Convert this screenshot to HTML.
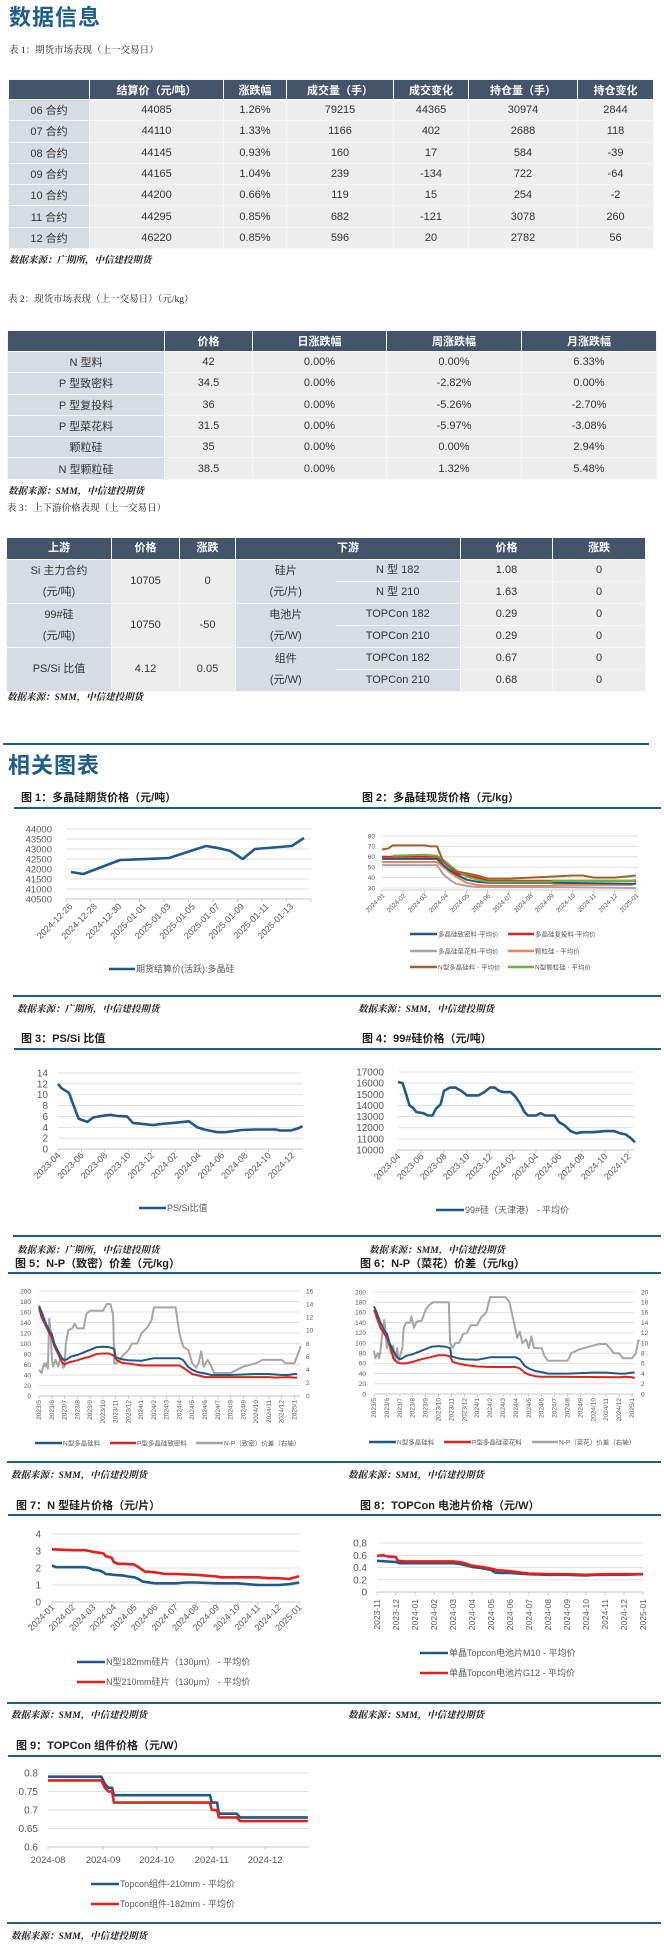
<!DOCTYPE html>
<html><head><meta charset="utf-8">
<style>
*{margin:0;padding:0;box-sizing:border-box}
body{width:664px;height:1944px;position:relative;background:#fff;font-family:"Liberation Sans","Noto Sans CJK SC",sans-serif;color:#222;overflow:hidden}
.abs{position:absolute}
.h1{font-size:22px;font-weight:bold;color:#1f5d8c;letter-spacing:1px}
.cap{font-size:9.5px;font-family:"Liberation Serif","Noto Serif CJK SC",serif;color:#222}
.src{font-size:9.5px;font-style:italic;font-weight:bold;font-family:"Liberation Serif","Noto Serif CJK SC",serif;color:#222}
.ft{font-size:11px;font-weight:bold;color:#222}
.rule{position:absolute;height:2px;background:#1f5d8c}
table{position:absolute;border-collapse:collapse;table-layout:fixed;font-size:11px;color:#333}
td,th{text-align:center;border:1px solid #f4f6f8;padding:0;overflow:hidden;white-space:nowrap}
th{background:#44546a;color:#fff;font-weight:bold}
td{background:#ededed}
td.k{background:#d6dce4}
</style></head><body>
<div class="abs h1" style="left:9px;top:0px">数据信息</div>
<div class="abs cap" style="left:9px;top:42px">表 1：期货市场表现（上一交易日）</div>
<table style="left:8px;top:79px;width:645px">
<colgroup><col style="width:81px"><col style="width:134px"><col style="width:63px"><col style="width:107px"><col style="width:75px"><col style="width:109px"><col style="width:76px"></colgroup>
<tr style="height:20px"><th></th><th>结算价（元/吨）</th><th>涨跌幅</th><th>成交量（手）</th><th>成交变化</th><th>持仓量（手）</th><th>持仓变化</th></tr>
<tr style="height:21.3px"><td class="k">06 合约</td><td>44085</td><td>1.26%</td><td>79215</td><td>44365</td><td>30974</td><td>2844</td></tr>
<tr style="height:21.3px"><td class="k">07 合约</td><td>44110</td><td>1.33%</td><td>1166</td><td>402</td><td>2688</td><td>118</td></tr>
<tr style="height:21.3px"><td class="k">08 合约</td><td>44145</td><td>0.93%</td><td>160</td><td>17</td><td>584</td><td>-39</td></tr>
<tr style="height:21.3px"><td class="k">09 合约</td><td>44165</td><td>1.04%</td><td>239</td><td>-134</td><td>722</td><td>-64</td></tr>
<tr style="height:21.3px"><td class="k">10 合约</td><td>44200</td><td>0.66%</td><td>119</td><td>15</td><td>254</td><td>-2</td></tr>
<tr style="height:21.3px"><td class="k">11 合约</td><td>44295</td><td>0.85%</td><td>682</td><td>-121</td><td>3078</td><td>260</td></tr>
<tr style="height:21.3px"><td class="k">12 合约</td><td>46220</td><td>0.85%</td><td>596</td><td>20</td><td>2782</td><td>56</td></tr>
</table>
<div class="abs src" style="left:9px;top:252px">数据来源：广期所，中信建投期货</div>
<div class="abs cap" style="left:8px;top:291px">表 2：现货市场表现（上一交易日）（元/kg）</div>
<table style="left:7px;top:330px;width:649px">
<colgroup><col style="width:157px"><col style="width:88px"><col style="width:134px"><col style="width:135px"><col style="width:135px"></colgroup>
<tr style="height:21px"><th></th><th>价格</th><th>日涨跌幅</th><th>周涨跌幅</th><th>月涨跌幅</th></tr>
<tr style="height:21.3px"><td class="k">N 型料</td><td>42</td><td>0.00%</td><td>0.00%</td><td>6.33%</td></tr>
<tr style="height:21.3px"><td class="k">P 型致密料</td><td>34.5</td><td>0.00%</td><td>-2.82%</td><td>0.00%</td></tr>
<tr style="height:21.3px"><td class="k">P 型复投料</td><td>36</td><td>0.00%</td><td>-5.26%</td><td>-2.70%</td></tr>
<tr style="height:21.3px"><td class="k">P 型菜花料</td><td>31.5</td><td>0.00%</td><td>-5.97%</td><td>-3.08%</td></tr>
<tr style="height:21.3px"><td class="k">颗粒硅</td><td>35</td><td>0.00%</td><td>0.00%</td><td>2.94%</td></tr>
<tr style="height:21.3px"><td class="k">N 型颗粒硅</td><td>38.5</td><td>0.00%</td><td>1.32%</td><td>5.48%</td></tr>
</table>
<div class="abs src" style="left:8px;top:483px">数据来源：SMM，中信建投期货</div>
<div class="abs cap" style="left:7px;top:500px">表 3：上下游价格表现（上一交易日）</div>
<table style="left:6px;top:537px;width:639px;line-height:21px">
<colgroup><col style="width:105px"><col style="width:68px"><col style="width:56px"><col style="width:100px"><col style="width:125px"><col style="width:92px"><col style="width:93px"></colgroup>
<tr style="height:20px"><th>上游</th><th>价格</th><th>涨跌</th><th colspan="2">下游</th><th>价格</th><th>涨跌</th></tr>
<tr style="height:21.3px"><td class="k" rowspan="2">Si 主力合约<br>(元/吨)</td><td rowspan="2">10705</td><td rowspan="2">0</td><td class="k" rowspan="2" style="border-right:none">硅片<br>(元/片)</td><td class="k" style="border-left:none">N 型 182</td><td>1.08</td><td>0</td></tr>
<tr style="height:21.3px"><td class="k" style="border-left:none">N 型 210</td><td>1.63</td><td>0</td></tr>
<tr style="height:21.3px"><td class="k" rowspan="2">99#硅<br>(元/吨)</td><td rowspan="2">10750</td><td rowspan="2">-50</td><td class="k" rowspan="2" style="border-right:none">电池片<br>(元/W)</td><td class="k" style="border-left:none">TOPCon 182</td><td>0.29</td><td>0</td></tr>
<tr style="height:21.3px"><td class="k" style="border-left:none">TOPCon 210</td><td>0.29</td><td>0</td></tr>
<tr style="height:21.3px"><td class="k" rowspan="2">PS/Si 比值</td><td rowspan="2">4.12</td><td rowspan="2">0.05</td><td class="k" rowspan="2" style="border-right:none">组件<br>(元/W)</td><td class="k" style="border-left:none">TOPCon 182</td><td>0.67</td><td>0</td></tr>
<tr style="height:21.3px"><td class="k" style="border-left:none">TOPCon 210</td><td>0.68</td><td>0</td></tr>
</table>
<div class="abs src" style="left:7px;top:689px">数据来源：SMM，中信建投期货</div>

<div class="rule" style="left:3px;top:743px;width:646px"></div>
<div class="abs h1" style="left:8px;top:748px">相关图表</div>

<div class="abs ft" style="left:21px;top:789px">图 1：多晶硅期货价格（元/吨）</div>
<div class="abs ft" style="left:362px;top:789px">图 2：多晶硅现货价格（元/kg）</div>
<div class="rule" style="left:14px;top:807px;width:647px"></div>
<div class="rule" style="left:13px;top:995px;width:648px"></div>
<div class="abs src" style="left:17px;top:1001px">数据来源：广期所，中信建投期货</div>
<div class="abs src" style="left:358px;top:1001px">数据来源：SMM，中信建投期货</div>

<div class="abs ft" style="left:21px;top:1030px">图 3：PS/Si 比值</div>
<div class="abs ft" style="left:362px;top:1030px">图 4：99#硅价格（元/吨）</div>
<div class="rule" style="left:14px;top:1048px;width:647px"></div>
<div class="rule" style="left:13px;top:1235px;width:648px"></div>
<div class="abs src" style="left:17px;top:1242px">数据来源：广期所，中信建投期货</div>
<div class="abs src" style="left:369px;top:1242px">数据来源：SMM，中信建投期货</div>
<div class="abs ft" style="left:15px;top:1255px">图 5：N-P（致密）价差（元/kg）</div>
<div class="abs ft" style="left:360px;top:1255px">图 6：N-P（菜花）价差（元/kg）</div>
<div class="rule" style="left:8px;top:1272px;width:653px"></div>
<div class="rule" style="left:7px;top:1461px;width:654px"></div>
<div class="abs src" style="left:11px;top:1467px">数据来源：SMM，中信建投期货</div>
<div class="abs src" style="left:348px;top:1467px">数据来源：SMM，中信建投期货</div>

<div class="abs ft" style="left:16px;top:1497px">图 7：N 型硅片价格（元/片）</div>
<div class="abs ft" style="left:360px;top:1497px">图 8：TOPCon 电池片价格（元/W）</div>
<div class="rule" style="left:8px;top:1514px;width:653px"></div>
<div class="rule" style="left:7px;top:1702px;width:654px"></div>
<div class="abs src" style="left:11px;top:1707px">数据来源：SMM，中信建投期货</div>
<div class="abs src" style="left:348px;top:1707px">数据来源：SMM，中信建投期货</div>
<div class="abs ft" style="left:16px;top:1737px">图 9：TOPCon 组件价格（元/W）</div>
<div class="rule" style="left:8px;top:1755px;width:653px"></div>
<div class="rule" style="left:7px;top:1922px;width:654px"></div>
<div class="abs src" style="left:11px;top:1928px">数据来源：SMM，中信建投期货</div>

<svg id="charts" class="abs" style="left:0;top:0" width="664" height="1944" xmlns="http://www.w3.org/2000/svg"></svg>

<script>
// ---------- data ----------
const f1Labels=["2024-12-26","2024-12-28","2024-12-30","2025-01-01","2025-01-03","2025-01-05","2025-01-07","2025-01-09","2025-01-11","2025-01-13"];
const f1Days=[0,1,4,5,7,8,11,12,13,14,15,18,19];
const f1Values=[41850,41750,42450,42470,42520,42550,43150,43050,42900,42500,43000,43150,43550];
const f1Ticks=[40500,41000,41500,42000,42500,43000,43500,44000];

const f2Labels=["2024-01","2024-02","2024-03","2024-04","2024-05","2024-06","2024-07","2024-08","2024-09","2024-10","2024-11","2024-12","2025-01"];
const f2Ticks=[30,40,50,60,70,80];
const f2GrayX=[0,2.6,2.9,3.2,3.5,4,4.5,5,8,12];
const f2GrayY=[52,52,43,38,34,32,31,31,31,30];
const f2OrangeX=[0,2.6,2.9,3.2,3.5,4,4.5,5,8,8.1,11.8,12];
const f2OrangeY=[55,55,50,45,41,35,33,32,32,33,33,35];
const f2BlueX=[0,2.6,2.9,3.2,3.5,4,4.5,5,8,11.8,12];
const f2BlueY=[58,58,52,47,43,38,36,35,35,34,34];
const f2RedX=[0,2.6,2.9,3.2,3.5,4,4.5,5,8,11.8,12];
const f2RedY=[60,60,55,50,44,42,40,37,37,37,37];
const f2GreenX=[0.5,2,2.6,2.9,3.2,3.5,4,4.5,5,8,8.1,11.8,12];
const f2GreenY=[61,62,61,57,52,47,41,38,36,36,37,37,38];
const f2BrownX=[0,0.3,0.5,2,2.3,2.6,2.9,3.2,3.5,4,4.5,5,6,7,8,9,9.5,10,11,11.5,12];
const f2BrownY=[67,68,71,71,70,70,55,50,46,44,42,39,39,40,41,42,42,40,40,41,42];

const f3Labels=["2023-04","2023-06","2023-08","2023-10","2023-12","2024-02","2024-04","2024-06","2024-08","2024-10","2024-12"];
const f3Ticks=[0,2,4,6,8,10,12,14];
const f3X=[0,0.3,0.75,0.95,1.2,1.75,2.5,3.0,3.75,4.5,5.0,5.9,6.4,8.1,8.8,10.3,11.2,11.9,12.5,13.6,14.3,15.7,16.8,18.6,19.0,19.9,20.5,20.9];
const f3Y=[12,11.2,10.6,10.3,8.8,5.6,5.0,5.8,6.1,6.3,6.1,6.0,4.8,4.4,4.6,4.9,5.1,4.0,3.6,3.1,3.1,3.5,3.6,3.6,3.4,3.4,3.8,4.2];

const f4Labels=f3Labels;
const f4Ticks=[10000,11000,12000,13000,14000,15000,16000,17000];
const f4X=[0,0.4,0.7,1.0,1.3,1.6,2.2,2.6,3.0,3.3,3.7,4.0,4.5,5.0,5.5,6.0,6.5,7.0,7.5,8.0,8.4,8.8,9.2,9.8,10.2,10.6,11.0,11.3,12.0,12.4,12.8,13.6,14.0,14.5,15.0,15.5,16.0,17.0,18.0,18.8,19.3,19.8,20.2,20.6];
const f4Y=[16100,16000,15000,14000,13800,13400,13300,13100,13100,13700,14100,15300,15600,15600,15300,14900,14900,14900,15200,15600,15600,15300,15200,15200,14800,14200,13400,13100,13100,13300,13100,13100,12500,12200,11700,11500,11600,11600,11700,11700,11500,11400,11100,10700];

const f5Labels=["2023/5","2023/6","2023/7","2023/8","2023/9","2023/10","2023/11","2023/12","2024/1","2024/2","2024/3","2024/4","2024/5","2024/6","2024/7","2024/8","2024/9","2024/10","2024/11","2024/12","2025/1"];
const f5LeftTicks=[0,20,40,60,80,100,120,140,160,180,200];
const f5RightTicks=[0,2,4,6,8,10,12,14,16];
const fNX=[0,0.2,0.5,0.8,1,1.2,1.5,1.8,2,2.2,2.5,3,3.5,4,4.5,5,5.5,5.9,6,6.5,7,8,9,10,11,11.3,11.7,12,12.5,13,13.5,14,15,16,17,18,18.5,19,19.5,20,20.2];
const fNY=[172,160,140,125,118,100,85,72,68,70,75,78,83,88,93,94,93,90,74,70,68,67,72,72,72,68,55,50,45,43,40,40,40,41,42,42,41,40,40,42,42];
const f5PX=[0,0.2,0.5,0.8,1,1.2,1.5,1.8,2,2.3,2.5,3,3.5,4,4.5,5,5.5,5.9,6.1,6.5,7,8,9,10,11,11.3,11.7,12,12.5,13,14,18,18.5,19.5,20,20.2];
const f5PY=[168,150,135,120,112,95,80,65,60,64,65,68,72,75,80,81,81,76,68,63,62,58,58,58,58,54,47,42,39,36,36,36,35,36,35,35];
const f5SpreadX=[0,0.2,0.4,0.5,0.6,0.7,0.8,0.9,1.0,1.1,1.3,1.5,1.7,1.9,2.0,2.1,2.3,2.6,2.8,3.0,3.5,3.7,4,5,5.3,5.6,5.8,5.9,6.1,6.5,7,7.3,7.7,8,8.5,8.8,9,10,10.7,11,11.3,11.7,12,12.3,12.5,12.7,12.9,13.2,13.5,13.7,14,15,15.5,16,17,17.5,18,19,19.3,20,20.3,20.5];
const f5SpreadY=[4,3.5,5,4.5,5,4.2,11.8,10,6,4.5,5.5,4.5,6,4.3,4.5,8,10,10.3,11,10.3,10.3,12.5,13,13,14,14,12.4,5,5,6,7,8,8,9.5,10.5,11.5,13.5,13.5,13.5,9.5,7.5,7,5,4.3,5,6.8,4.5,5.5,4.5,3.5,3.5,3.5,4,4.5,5,5.5,5.5,5.5,5.0,5.0,6.5,7.6];

const f6LeftTicks=f5LeftTicks;
const f6RightTicks=[0,2,4,6,8,10,12,14,16,18,20];
const f6PX=[0,0.5,1,1.3,1.5,1.8,2,2.5,3,3.5,4,4.5,5,5.5,5.9,6.1,6.5,7,8,9,10,11,11.3,11.7,12,12.5,13,14,19,19.5,20,20.2];
const f6PY=[165,130,110,90,70,62,60,60,63,67,70,73,76,76,74,63,60,57,54,53,53,53,50,42,38,35,34,34,33,34,33,31];
const f6SpreadX=[0,0.1,0.3,0.4,0.5,0.6,0.8,0.9,1.0,1.1,1.3,1.5,1.6,1.8,1.9,2.2,2.3,2.5,2.8,2.9,3.1,3.3,3.7,4,4.3,4.6,5.0,5.8,5.9,6.1,6.3,6.6,6.9,7.2,7.5,8,8.3,8.7,9,10,10.2,10.5,10.9,11.1,11.3,11.5,11.8,12.0,12.2,12.4,13,13.2,13.5,14,15,15.3,15.7,16,17,17.5,18,18.6,19,19.3,20,20.3,20.5,20.6];
const f6SpreadY=[8.5,7,8,7,8.2,11,14.5,12,9,10.5,8,9.5,6.5,9,6.5,9,13,14,14,15.2,13,14.2,14.4,16.5,17.5,18,18,18,10,9,10,10,11.7,12,13.5,13.5,15,16,19,19,19,18,13.5,11,12.2,10,10.7,9,11.3,9,9,7.5,6.5,6.5,6.5,8,8.5,8.8,9.5,9.8,9.8,8,8,7,7,8,10.5,10.5];

const f7Labels=f2Labels;
const f7Ticks=[0,1,2,3,4];
const f7BlueX=[0,0.2,1.6,1.8,2,2.3,2.5,2.6,3,3.5,3.7,4,4.2,4.4,5,6,6.5,7,8,9,9.5,10,11,11.5,12];
const f7BlueY=[2.15,2.05,2.05,2.0,1.9,1.85,1.75,1.65,1.6,1.55,1.5,1.45,1.35,1.2,1.1,1.1,1.15,1.15,1.1,1.1,1.05,1.0,1.0,1.05,1.15];
const f7RedX=[0,1,1.6,1.8,2,2.5,2.6,2.9,3.0,3.2,3.5,4,4.2,4.5,5,5.5,6,7,7.5,8,8.2,9,10,10.5,11,11.5,12];
const f7RedY=[3.1,3.05,3.05,3.0,2.95,2.85,2.7,2.6,2.35,2.25,2.25,2.2,2.05,1.8,1.75,1.65,1.65,1.6,1.55,1.5,1.45,1.45,1.45,1.4,1.4,1.35,1.52];

const f8Labels=["2023-11","2023-12","2024-01","2024-02","2024-03","2024-04","2024-05","2024-06","2024-07","2024-08","2024-09","2024-10","2024-11","2024-12","2025-01"];
const f8Ticks=[0,0.2,0.4,0.6,0.8];
const f8BlueX=[0,0.5,1,1.2,4,4.3,4.6,5,5.5,6,6.2,6.5,7,7.5,8,9,10,11,11.5,13,14];
const f8BlueY=[0.51,0.5,0.49,0.47,0.47,0.46,0.44,0.41,0.39,0.36,0.32,0.31,0.31,0.3,0.29,0.28,0.28,0.27,0.28,0.28,0.29];
const f8RedX=[0,0.3,0.6,1,1.1,1.5,4,4.3,4.6,5,5.5,6,6.3,7,7.5,8,9,10,11,12,14];
const f8RedY=[0.59,0.6,0.58,0.57,0.51,0.5,0.5,0.49,0.47,0.43,0.41,0.38,0.36,0.34,0.32,0.3,0.29,0.29,0.28,0.29,0.29];

const f9Labels=["2024-08","2024-09","2024-10","2024-11","2024-12"];
const f9LabelDays=[0,31,61,92,122];
const f9Ticks=[0.6,0.65,0.7,0.75,0.8];
const f9BlueX=[0,30,32,34,36,37,91,92,95,96,106,108,146];
const f9BlueY=[0.79,0.79,0.77,0.76,0.76,0.74,0.74,0.72,0.72,0.69,0.69,0.68,0.68];
const f9RedX=[0,30,32,34,36,37,91,92,95,96,106,108,146];
const f9RedY=[0.78,0.78,0.76,0.75,0.75,0.72,0.72,0.70,0.70,0.68,0.68,0.67,0.67];

// ---------- helpers ----------
const NS="http://www.w3.org/2000/svg";
const svg=document.getElementById('charts');
const FONT='"Liberation Sans","Noto Sans CJK SC",sans-serif';
function el(tag,attrs,parent){const e=document.createElementNS(NS,tag);for(const k in attrs)e.setAttribute(k,attrs[k]);(parent||svg).appendChild(e);return e;}
function lin(d0,d1,r0,r1){return v=>r0+(v-d0)/(d1-d0)*(r1-r0);}
function grid(g,ticks,ys,x0,x1,lx,fs,name){
  ticks.forEach(t=>{
    const l=el('line',{x1:x0,x2:x1,y1:ys(t),y2:ys(t),stroke:'#d9d9d9','stroke-width':0.8},g);
    
    
    if(lx!==null){
      const tx=el('text',{x:lx,y:ys(t)+fs*0.35,'font-size':fs,'text-anchor':'end',fill:'#595959','font-family':FONT},g);
      tx.textContent=String(t);
      
      
    }
  });
}
function rightLabels(g,ticks,ys,lx,fs,name){
  ticks.forEach(t=>{
    const tx=el('text',{x:lx,y:ys(t)+fs*0.35,'font-size':fs,fill:'#595959','font-family':FONT},g);
    tx.textContent=String(t);
    
    
  });
}
function series(g,xs,ys,X,Y,color,w,name){
  const d=X.map((x,i)=>(i?'L':'M')+xs(x).toFixed(1)+','+ys(Y[i]).toFixed(1)).join('');
  const p=el('path',{d:d,fill:'none',stroke:color,'stroke-width':w,'stroke-linejoin':'round'},g);
  
  
}
function xLabels(g,labels,pos,y,rot,fs,name,dx){
  labels.forEach((s,i)=>{
    const x=pos(i)+dx;
    const t=el('text',{x:x,y:y,'font-size':fs,fill:'#595959','font-family':FONT,'text-anchor':rot?'end':'middle',transform:rot?`rotate(${rot} ${x} ${y})`:''},g);
    t.textContent=s;
    
    
  });
}
function legend(g,x,y,len,color,text,fs,name){
  const l=el('line',{x1:x,x2:x+len,y1:y,y2:y,stroke:color,'stroke-width':2.5},g);
  
  
  const t=el('text',{x:x+len+1,y:y+fs*0.36,'font-size':fs,fill:'#595959','font-family':FONT},g);
  t.textContent=text;
  
  
}
function group(name){const g=el('g',{});return g;}
function axisLine(g,x0,x1,y,ticksX,name){
  const a=el('line',{x1:x0,x2:x1,y1:y,y2:y,stroke:'#bfbfbf','stroke-width':0.8},g);
  
  
  ticksX.forEach(tx=>{const t=el('line',{x1:tx,x2:tx,y1:y,y2:y+3,stroke:'#bfbfbf','stroke-width':0.8},g);});
}
const BLUE='#1f5a8a',RED='#e3201b',GRAY='#a6a6a6';

// ---------- fig 1 ----------
(function(){
  const g=group('fig1-chart');
  const xs=lin(0,19,71,304), ys=lin(40500,44000,899,829);
  grid(g,f1Ticks,ys,66,311,52,9.5,'fig1');
  axisLine(g,66,311,899,f1Labels.map((s,i)=>66+24.5*i).concat([311]),'fig1');
  series(g,xs,ys,f1Days,f1Values,BLUE,2.6,'fig1-futures-line');
  xLabels(g,f1Labels,i=>xs(i*2),907,-45,9,'fig1',2);
  legend(g,109,969,26,BLUE,'期货结算价(活跃):多晶硅',9,'fig1');
})();
// ---------- fig 2 ----------
(function(){
  const g=group('fig2-chart');
  const xs=lin(0,12,382,636), ys=lin(30,80,888,836);
  grid(g,f2Ticks,ys,382,638,375,6.5,'fig2');
  axisLine(g,382,638,890,f2Labels.map((s,i)=>xs(i)),'fig2');
  series(g,xs,ys,f2GrayX,f2GrayY,GRAY,2,'fig2-flake-line');
  series(g,xs,ys,f2OrangeX,f2OrangeY,'#f4834b',2,'fig2-granular-line');
  series(g,xs,ys,f2BlueX,f2BlueY,BLUE,2,'fig2-dense-line');
  series(g,xs,ys,f2RedX,f2RedY,RED,2,'fig2-recharge-line');
  series(g,xs,ys,f2GreenX,f2GreenY,'#6bb33c',2,'fig2-n-granular-line');
  series(g,xs,ys,f2BrownX,f2BrownY,'#a0612d',2,'fig2-n-type-line');
  xLabels(g,f2Labels,i=>xs(i),896,-45,6.5,'fig2',3);
  legend(g,410,934,27,BLUE,'多晶硅致密料-平均价',6.5,'fig2-dense');
  legend(g,508,934,26,RED,'多晶硅复投料-平均价',6.5,'fig2-recharge');
  legend(g,410,951,27,GRAY,'多晶硅菜花料-平均价',6.5,'fig2-flake');
  legend(g,508,951,26,'#f4834b','颗粒硅 - 平均价',6.5,'fig2-granular');
  legend(g,410,967,27,'#a0612d','N型多晶硅料 - 平均价',6.5,'fig2-n-type');
  legend(g,508,967,26,'#6bb33c','N型颗粒硅 - 平均价',6.5,'fig2-n-granular');
})();
// ---------- fig 3 ----------
(function(){
  const g=group('fig3-chart');
  const xs=lin(0,1,58,69.7), ys=lin(0,14,1149,1073);
  grid(g,f3Ticks,ys,58,303,48,10,'fig3');
  axisLine(g,58,303,1149,f3Labels.map((s,i)=>xs(i*2)),'fig3');
  series(g,xs,ys,f3X,f3Y,BLUE,2.6,'fig3-ratio-line');
  xLabels(g,f3Labels,i=>xs(i*2),1156,-45,9,'fig3',3);
  legend(g,139,1208,27,BLUE,'PS/Si比值',9,'fig3');
})();
// ---------- fig 4 ----------
(function(){
  const g=group('fig4-chart');
  const xs=lin(0,1,398,409.5), ys=lin(10000,17000,1150,1072);
  grid(g,f4Ticks,ys,398,634,384,10,'fig4');
  axisLine(g,398,634,1150,f4Labels.map((s,i)=>xs(i*2)),'fig4');
  series(g,xs,ys,f4X,f4Y,BLUE,2.6,'fig4-price-line');
  xLabels(g,f4Labels,i=>xs(i*2),1157,-45,9,'fig4',3);
  legend(g,436,1210,28,BLUE,'99#硅（天津港） - 平均价',9,'fig4');
})();
// ---------- fig 5 ----------
(function(){
  const g=group('fig5-chart');
  const xs=lin(0,1,39,51.77), ys=lin(0,200,1396,1291), yr=lin(0,16,1396,1291);
  grid(g,f5LeftTicks,ys,39,300,31,6.5,'fig5');
  rightLabels(g,f5RightTicks,yr,306,6.5,'fig5');
  axisLine(g,39,300,1396,f5Labels.map((s,i)=>xs(i)),'fig5');
  series(g,xs,yr,f5SpreadX,f5SpreadY,GRAY,2,'fig5-spread-line');
  series(g,xs,ys,f5PX,f5PY,RED,2,'fig5-p-line');
  series(g,xs,ys,fNX,fNY,BLUE,2,'fig5-n-line');
  xLabels(g,f5Labels,i=>xs(i),1400,-90,6.5,'fig5',2);
  legend(g,35,1443,27,BLUE,'N型多晶硅料',6.5,'fig5-n');
  legend(g,110,1443,26,RED,'P型多晶硅致密料',6.5,'fig5-p');
  legend(g,196,1443,27,GRAY,'N-P（致密）价差（右轴）',6.5,'fig5-spread');
})();
// ---------- fig 6 ----------
(function(){
  const g=group('fig6-chart');
  const xs=lin(0,1,374,386.9), ys=lin(0,200,1394,1292), yr=lin(0,20,1394,1292);
  grid(g,f6LeftTicks,ys,374,634,366,6.5,'fig6');
  rightLabels(g,f6RightTicks,yr,641,6.5,'fig6');
  axisLine(g,374,634,1394,f5Labels.map((s,i)=>xs(i)),'fig6');
  series(g,xs,yr,f6SpreadX,f6SpreadY,GRAY,2,'fig6-spread-line');
  series(g,xs,ys,f6PX,f6PY,RED,2,'fig6-p-line');
  series(g,xs,ys,fNX,fNY,BLUE,2,'fig6-n-line');
  xLabels(g,f5Labels,i=>xs(i),1398,-90,6.5,'fig6',2);
  legend(g,369,1442,27,BLUE,'N型多晶硅料',6.5,'fig6-n');
  legend(g,444,1442,27,RED,'P型多晶硅菜花料',6.5,'fig6-p');
  legend(g,532,1442,26,GRAY,'N-P（菜花）价差（右轴）',6.5,'fig6-spread');
})();
// ---------- fig 7 ----------
(function(){
  const g=group('fig7-chart');
  const xs=lin(0,1,52,72.6), ys=lin(0,4,1602,1534);
  grid(g,f7Ticks,ys,52,300,41,10,'fig7');
  axisLine(g,52,300,1602,f7Labels.map((s,i)=>xs(i)),'fig7');
  series(g,xs,ys,f7BlueX,f7BlueY,BLUE,2.6,'fig7-182-line');
  series(g,xs,ys,f7RedX,f7RedY,RED,2.6,'fig7-210-line');
  xLabels(g,f7Labels,i=>xs(i),1608,-45,9,'fig7',3);
  legend(g,77,1662,28,BLUE,'N型182mm硅片（130μm） - 平均价',9,'fig7-182');
  legend(g,77,1682,28,RED,'N型210mm硅片（130μm） - 平均价',9,'fig7-210');
})();
// ---------- fig 8 ----------
(function(){
  const g=group('fig8-chart');
  const xs=lin(0,1,377,396), ys=lin(0,0.8,1592,1543);
  grid(g,f8Ticks,ys,377,643,367,10,'fig8');
  axisLine(g,377,643,1592,f8Labels.map((s,i)=>xs(i)),'fig8');
  series(g,xs,ys,f8BlueX,f8BlueY,BLUE,2.6,'fig8-m10-line');
  series(g,xs,ys,f8RedX,f8RedY,RED,2.6,'fig8-g12-line');
  xLabels(g,f8Labels,i=>xs(i),1599,-90,8.5,'fig8',3);
  legend(g,420,1653,28,BLUE,'单晶Topcon电池片M10 - 平均价',9,'fig8-m10');
  legend(g,420,1673,28,RED,'单晶Topcon电池片G12 - 平均价',9,'fig8-g12');
})();
// ---------- fig 9 ----------
(function(){
  const g=group('fig9-chart');
  const xs=lin(0,1,48,49.78), ys=lin(0.6,0.8,1847,1773);
  grid(g,f9Ticks,ys,48,309,38,10,'fig9');
  axisLine(g,48,309,1847,f9LabelDays.map(d=>xs(d)),'fig9');
  series(g,xs,ys,f9BlueX,f9BlueY,BLUE,2.6,'fig9-210-line');
  series(g,xs,ys,f9RedX,f9RedY,RED,2.6,'fig9-182-line');
  xLabels(g,f9Labels,i=>xs(f9LabelDays[i]),1863,0,9.5,'fig9',0);
  legend(g,91,1884,28,BLUE,'Topcon组件-210mm - 平均价',9,'fig9-210');
  legend(g,91,1904,28,RED,'Topcon组件-182mm - 平均价',9,'fig9-182');
})();
</script>
</body></html>
